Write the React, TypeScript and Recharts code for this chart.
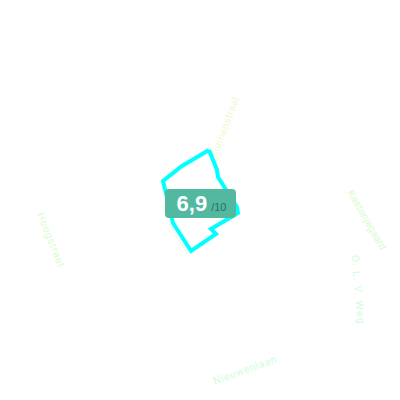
import { ScatterChart, Scatter, XAxis, YAxis } from 'recharts';

// map picture: x runs east, y runs north, both in the 0-400 frame
const outlineX = [209, 217, 218, 237, 238, 211, 216, 191, 173, 163, 182, 209];
const outlineY = [250, 230, 223, 193, 187, 171, 166, 149, 177, 219, 234, 250];

const edgeX = [170, 176, 188];
const edgeY = [176, 164, 146];

const streetNames = ['Sonnenstraat', 'Kastanjegaard', 'O. L. V. Weg', 'Nieuwenlaan', 'Hoogstraat'];
const streetX = [225, 367, 358, 245, 51];
const streetY = [273, 180, 110, 30, 160];
const streetAngles = [-70, 60, 85, -20, 68];
const streetSpacing = [0.2, 0, 1.3, 0.6, 0.6];
const streetColors = ['#eefbd0', '#dcfbd0', '#d4fcdc', '#d4fcdc', '#dcfbd0'];

const score = '6,9';
const scoreMax = '/10';

const outline = outlineX.map((x, i) => ({ x, y: outlineY[i] }));
const edge = edgeX.map((x, i) => ({ x, y: edgeY[i] }));
const streets = streetNames.map((name, i) => ({
  x: streetX[i],
  y: streetY[i],
  name,
  angle: streetAngles[i],
  spacing: streetSpacing[i],
  color: streetColors[i],
}));

const StreetLabel = (props: any) => {
  const { cx, cy, payload } = props;
  return (
    <text
      x={cx}
      y={cy}
      transform={`rotate(${payload.angle} ${cx} ${cy})`}
      textAnchor="middle"
      dominantBaseline="central"
      fontFamily="Roboto, sans-serif"
      fontSize={10.5}
      letterSpacing={payload.spacing}
      fill={payload.color}
    >
      {payload.name}
    </text>
  );
};

const NoDot = () => null;

export default function App() {
  return (
    <div style={{ position: 'absolute', left: 0, top: 0, width: 400, height: 400, background: '#fff' }}>
      <ScatterChart width={400} height={400} margin={{ top: 0, right: 0, bottom: 0, left: 0 }}>
        <XAxis type="number" dataKey="x" domain={[0, 400]} hide />
        <YAxis type="number" dataKey="y" domain={[0, 400]} hide />
        <Scatter data={streets} shape={StreetLabel} isAnimationActive={false} />
        <Scatter
          data={edge}
          shape={NoDot}
          line={{ stroke: '#d4fbd0', strokeWidth: 2, strokeDasharray: '1 2' }}
          isAnimationActive={false}
        />
        <Scatter
          data={outline}
          shape={NoDot}
          line={{ stroke: '#00ffff', strokeWidth: 4, strokeLinejoin: 'miter' }}
          isAnimationActive={false}
        />
      </ScatterChart>
      <div
        style={{
          position: 'absolute',
          left: 165,
          top: 189,
          width: 71,
          height: 29,
          boxSizing: 'border-box',
          paddingLeft: 2,
          borderRadius: 4,
          background: '#52b8a0',
          display: 'flex',
          alignItems: 'baseline',
          justifyContent: 'center',
          fontFamily: '"Liberation Sans", sans-serif',
          lineHeight: '30px',
        }}
      >
        <span style={{ color: '#fff', fontWeight: 700, fontSize: 22 }}>{score}</span>
        <span style={{ color: '#2f6f60', fontSize: 11, marginLeft: 4 }}>{scoreMax}</span>
      </div>
    </div>
  );
}
